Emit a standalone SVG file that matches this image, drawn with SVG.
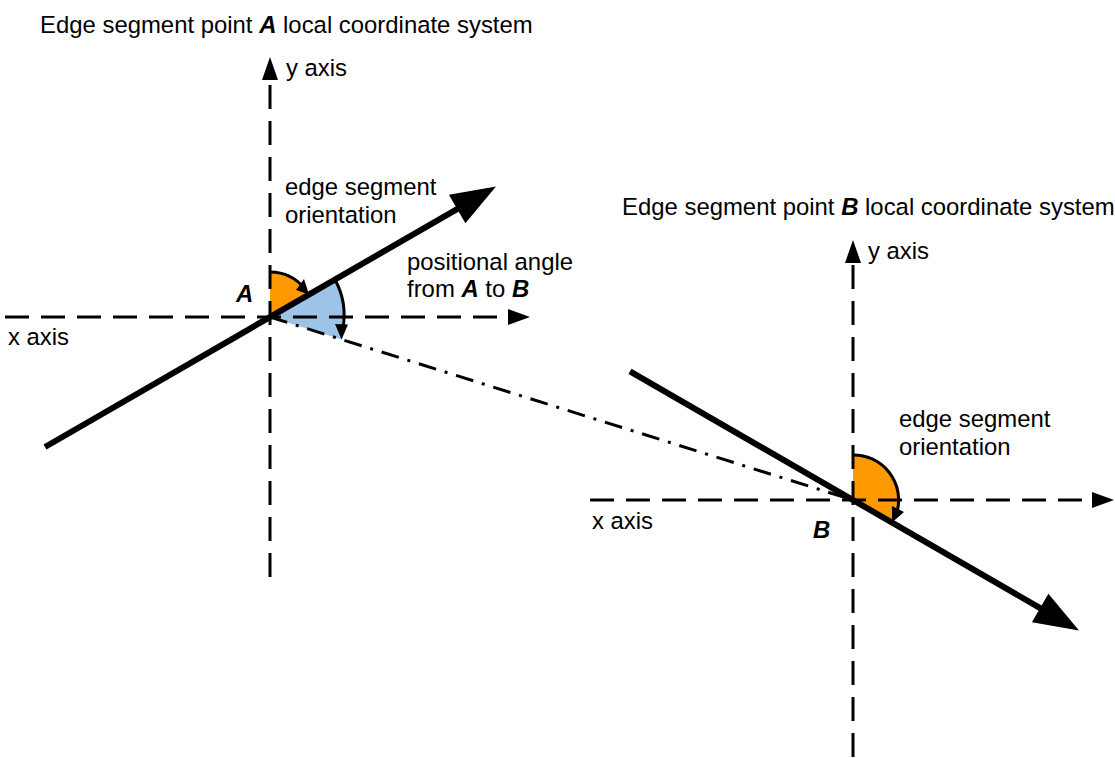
<svg xmlns="http://www.w3.org/2000/svg" width="1115" height="758" viewBox="0 0 1115 758">
<style>
text{font-family:"Liberation Sans",Arial,sans-serif;font-size:23.9px;fill:#000}
.bi{font-weight:bold;font-style:italic}
.axis{stroke:#000;stroke-width:3;stroke-dasharray:24 12;fill:none}
.dd{stroke:#000;stroke-width:3;stroke-dasharray:18 9 3 9;fill:none}
.thick{stroke:#000;stroke-width:6;fill:none}
.arc{stroke:#000;stroke-width:3;fill:none}
.orange{fill:#FF9900;stroke:none}
.blue{fill:#9DC3E6;stroke:none}
.head{fill:#000;stroke:none}
</style>
<rect width="1115" height="758" fill="#fff"/>
<g id="nodeA">
  <path class="blue" d="M270,317 L334.95,279.5 A75,75 0 0 1 341.6,339.4 Z"/>
  <path class="orange" d="M270,317 L270,272 A45,45 0 0 1 308.97,294.5 Z"/>
  <path class="axis" d="M5,317 H510"/>
  <polygon class="head" points="530,317 508,309 508,325"/>
  <path class="axis" d="M270,577 V78"/>
  <polygon class="head" points="270,57 262,80 278,80"/>
  <path class="arc" d="M270,272 A45,45 0 0 1 305,289"/>
  <polygon class="head" points="309,294.5 296,290 304,279"/>
  <path class="arc" d="M334.95,279.5 A75,75 0 0 1 343,328"/>
  <polygon class="head" points="341.6,339.4 335,324 348,324.5"/>
  <path class="thick" d="M45,447 L461,206.8"/>
  <polygon class="head" points="496,186.5 448.9,194.7 465.4,223.3"/>
  <text x="40" y="33">Edge segment point <tspan class="bi">A</tspan> local coordinate system</text>
  <text x="286" y="76">y axis</text>
  <text x="285" y="195">edge segment</text>
  <text x="285" y="223">orientation</text>
  <text x="407" y="270">positional angle</text>
  <text x="407" y="297">from <tspan class="bi">A</tspan> to <tspan class="bi">B</tspan></text>
  <text class="bi" x="236" y="302">A</text>
  <text x="8" y="345">x axis</text>
</g>
<g id="nodeB">
  <path class="orange" d="M853,500 L853,455 A45,45 0 0 1 891.97,522.5 Z"/>
  <path class="axis" d="M590,500 H1093"/>
  <polygon class="head" points="1114,500 1092,492 1092,508"/>
  <path class="axis" d="M853,757 V262"/>
  <polygon class="head" points="853,240 845,263 861,263"/>
  <path class="arc" d="M853,455 A45,45 0 0 1 897,512"/>
  <polygon class="head" points="891.97,522.5 892,506 904,512"/>
  <path class="thick" d="M630,371.3 L1044.5,610.6"/>
  <polygon class="head" points="1079,630.5 1048.4,593.7 1031.9,622.3"/>
  <text x="622" y="215">Edge segment point <tspan class="bi">B</tspan> local coordinate system</text>
  <text x="868" y="259">y axis</text>
  <text x="899" y="427">edge segment</text>
  <text x="899" y="455">orientation</text>
  <text x="592" y="529">x axis</text>
  <text class="bi" x="813" y="538">B</text>
</g>
<g id="connectors">
  <path class="dd" d="M270,317 L853,500"/>
</g>
</svg>
